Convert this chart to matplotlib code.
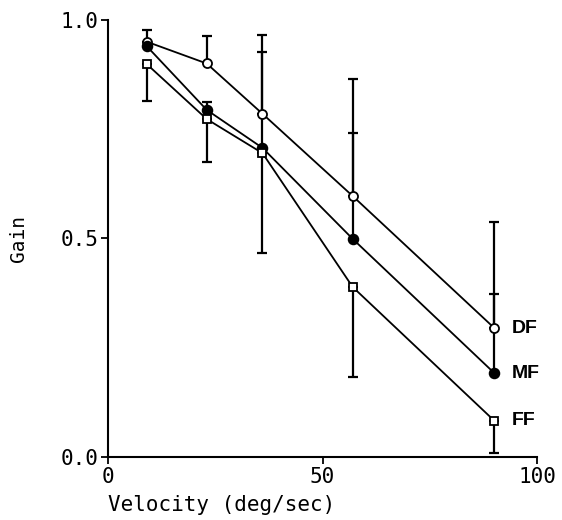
import matplotlib.pyplot as plt

plt.switch_backend("Agg")

# Velocities (deg/sec) and gains
velocity = [9, 23, 36, 57, 90]
gain_df = [0.95, 0.90, 0.785, 0.597, 0.295]
gain_mf = [0.94, 0.794, 0.707, 0.499, 0.192]
gain_ff = [0.899, 0.773, 0.695, 0.389, 0.083]

# One-sided error bars: DF and MF upward, FF downward
err_df_up = [0.027, 0.063, 0.181, 0.268, 0.243]
err_mf_up = [0.0, 0.018, 0.220, 0.242, 0.181]
err_ff_down = [0.084, 0.098, 0.228, 0.206, 0.074]

series_labels = ["DF", "MF", "FF"]

mono = "DejaVu Sans Mono"

fig = plt.figure(figsize=(5.62, 5.20), dpi=100)
ax = fig.add_axes([0.192, 0.121, 0.764, 0.841])

ebar = dict(fmt="none", ecolor="black", elinewidth=1.6, capsize=3.8, capthick=1.6, zorder=2)
ax.errorbar(velocity, gain_df, yerr=[[0] * 5, err_df_up], **ebar)
ax.errorbar(velocity, gain_mf, yerr=[[0] * 5, err_mf_up], **ebar)
ax.errorbar(velocity, gain_ff, yerr=[err_ff_down, [0] * 5], **ebar)

line = dict(color="black", linewidth=1.3, markeredgewidth=1.3, zorder=3)
ax.plot(velocity, gain_df, marker="o", markersize=6.5, markerfacecolor="white", **line)
ax.plot(velocity, gain_mf, marker="o", markersize=7, markerfacecolor="black", **line)
ax.plot(velocity, gain_ff, marker="s", markersize=6, markerfacecolor="white", **line)

for label, vals in zip(series_labels, [gain_df, gain_mf, gain_ff]):
    ax.text(velocity[-1] + 4, vals[-1], label, fontsize=14, fontweight="bold",
            family="Liberation Sans", va="center", ha="left")

ax.set_xlim(0, 100)
ax.set_ylim(0, 1.0)
ax.set_xticks([0, 50, 100])
ax.set_yticks([0.0, 0.5, 1.0])
ax.set_yticklabels(["0.0", "0.5", "1.0"])
ax.tick_params(direction="out", length=5, width=1.3, labelsize=15, pad=2)
for lbl in ax.get_xticklabels() + ax.get_yticklabels():
    lbl.set_family(mono)

ax.spines["top"].set_visible(False)
ax.spines["right"].set_visible(False)
ax.spines["left"].set_linewidth(1.5)
ax.spines["bottom"].set_linewidth(1.5)

ax.set_xlabel("Velocity (deg/sec)", family=mono, fontsize=15, loc="left", labelpad=6)
ax.set_ylabel("Gain", family=mono, fontsize=14)
ax.yaxis.set_label_coords(-0.187, 0.5)

fig.savefig("out.png", dpi=100)
